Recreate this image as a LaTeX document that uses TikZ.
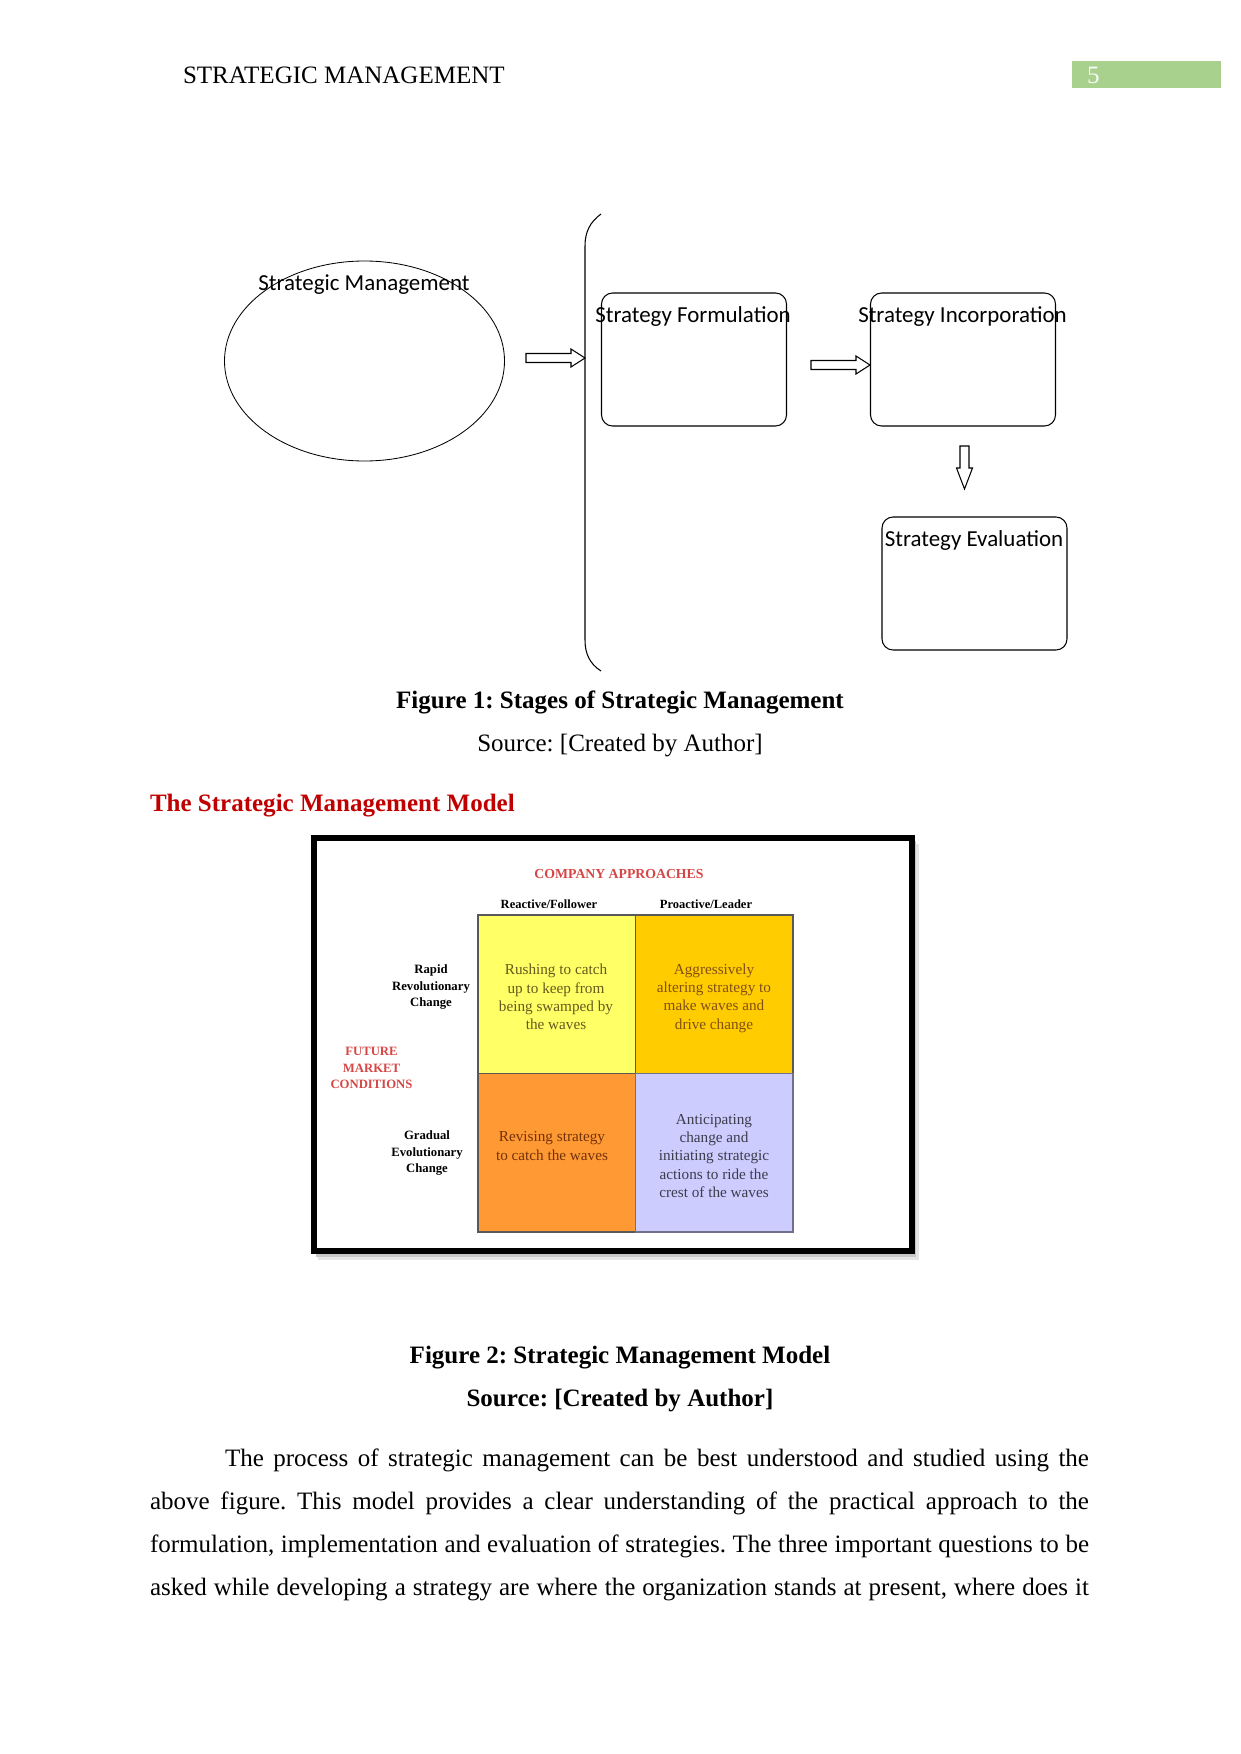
\documentclass[tikz,border=0pt]{standalone}
\usepackage{fontspec}
\usetikzlibrary{shapes.geometric}
\setmainfont{Liberation Serif}
\newfontfamily\carl{Carlito}
\frenchspacing
\definecolor{hdrgreen}{RGB}{169,209,142}
\definecolor{headred}{RGB}{192,0,0}
\definecolor{lblred}{RGB}{215,70,70}
\definecolor{cellyel}{RGB}{255,255,102}
\definecolor{cellgold}{RGB}{255,204,0}
\definecolor{cellorg}{RGB}{255,153,51}
\definecolor{celllav}{RGB}{204,204,255}
\definecolor{txtyel}{RGB}{105,88,30}
\definecolor{txtgold}{RGB}{130,80,20}
\definecolor{txtorg}{RGB}{115,50,10}
\definecolor{txtlav}{RGB}{60,60,75}
\begin{document}
\frenchspacing
\begin{tikzpicture}[x=0.4797pt,y=-0.4797pt,
  every node/.style={inner sep=0pt, outer sep=0pt},
  bodytxt/.style={font=\fontsize{12}{14}\selectfont, anchor=base},
  diagtxt/.style={font=\carl\fontsize{11}{13}\selectfont, anchor=base},
  stagebox/.style={draw, line width=0.5pt, rounded corners=5.3pt, minimum width=185*0.4797pt, minimum height=133*0.4797pt},
  blockarrow/.style={draw, line width=0.5pt, fill=white},
  cell/.style={draw=black!65, line width=0.6pt, minimum width=157.5*0.4797pt, minimum height=158.5*0.4797pt},
  celltxt/.style={align=center, font=\fontsize{7.3}{8.8}\selectfont},
  sidelbl/.style={align=center, font=\bfseries\fontsize{6.1}{7.8}\selectfont},
  paraline/.style={font=\fontsize{12}{14}\selectfont, anchor=base west}
]
\useasboundingbox (0,0) rectangle (1241,1754);

% ---------- header ----------
\node[bodytxt, anchor=base west] (hdr) at (183,84) {STRATEGIC MANAGEMENT};
\fill[hdrgreen] (1072,61) rectangle (1221,88);
\node[bodytxt, anchor=base west, text=white!92!hdrgreen] (pg) at (1087,84) {5};

% ---------- figure 1 ----------
\node[draw, ellipse, line width=0.4pt, minimum width=280*0.4797pt, minimum height=200*0.4797pt] (sm) at (364.5,361) {};
\node[diagtxt] (smt) at (364,290) {Strategic Management};

% bracket
\draw[line width=0.5pt] (601,214) .. controls (590,222) and (585,232) .. (585,246)
  -- (585,640) .. controls (585,654) and (590,664) .. (601,671);
\coordinate (brk) at (585,358);

% arrow 1
\draw[blockarrow] (526,353.5) -- (571,353.5) -- (571,349) -- (585,358) -- (571,367) -- (571,362.5) -- (526,362.5) -- cycle;

\node[stagebox] (form) at (694,359.5) {};
\node[diagtxt] (formt) at (693,322) {Strategy Formulation};

% arrow 2
\draw[blockarrow] (811,360.5) -- (856,360.5) -- (856,356) -- (870,365) -- (856,374) -- (856,369.5) -- (811,369.5) -- cycle;

\node[stagebox] (inc) at (963,359.5) {};
\node[diagtxt] (inct) at (962.5,322) {Strategy Incorporation};

% down arrow
\draw[blockarrow] (960,446) -- (969,446) -- (969,468) -- (972.5,468) -- (964.5,489) -- (956.5,468) -- (960,468) -- cycle;

\node[stagebox] (eval) at (974.5,583.5) {};
\node[diagtxt] (evalt) at (974,546) {Strategy Evaluation};

\node[bodytxt, font=\bfseries\fontsize{12}{14}\selectfont] (cap1) at (620,708.5) {Figure 1: Stages of Strategic Management};
\node[bodytxt] (src1) at (620,751.5) {Source: [Created by Author]};
\node[bodytxt, anchor=base west, text=headred, font=\bfseries\fontsize{12}{14}\selectfont] (head) at (150,811.5) {The Strategic Management Model};

% ---------- figure 2 (image) ----------
\fill[black!10] (318,844) rectangle (919,1260);
\fill[black!22] (316,841) rectangle (916,1257);
\draw[line width=6.5*0.4797pt, fill=white] (314,838) rectangle (912,1251);

\node[font=\bfseries\fontsize{6.6}{8}\selectfont, text=lblred, anchor=base] (ca) at (619,878) {COMPANY APPROACHES};
\node[font=\bfseries\fontsize{6}{7}\selectfont, anchor=base] (rf) at (549,908) {Reactive/Follower};
\node[font=\bfseries\fontsize{6}{7}\selectfont, anchor=base] (pl) at (706,908) {Proactive/Leader};

\node[cell, fill=cellyel]  (c11) at (556.75,994.25) {};
\node[cell, fill=cellgold] (c12) at (714.25,994.25) {};
\node[cell, fill=cellorg]  (c21) at (556.75,1152.75) {};
\node[cell, fill=celllav, draw=black!45!celllav] (c22) at (714.25,1152.75) {};

\node[celltxt, text=txtyel]  (t11) at (556,997) {Rushing to catch\\up to keep from\\being swamped by\\the waves};
\node[celltxt, text=txtgold] (t12) at (714,998) {Aggressively\\altering strategy to\\make waves and\\drive change};
\node[celltxt, text=txtorg]  (t21) at (552,1146) {Revising strategy\\to catch the waves};
\node[celltxt, text=txtlav]  (t22) at (714,1156) {Anticipating\\change and\\initiating strategic\\actions to ride the\\crest of the waves};

\node[sidelbl] (rrc) at (431,987) {Rapid\\Revolutionary\\Change};
\node[sidelbl, text=lblred] (fmc) at (371.5,1068) {FUTURE\\MARKET\\CONDITIONS};
\node[sidelbl] (gec) at (427,1153) {Gradual\\Evolutionary\\Change};

\node[bodytxt, font=\bfseries\fontsize{12}{14}\selectfont] (cap2) at (620,1363.5) {Figure 2: Strategic Management Model};
\node[bodytxt, font=\bfseries\fontsize{12}{14}\selectfont] (src2) at (620,1406.5) {Source: [Created by Author]};

% ---------- paragraph ----------
\node[paraline] (p1) at (225,1466.5) {\makebox[414.46pt][s]{The process of strategic management can be best understood and studied using the}};
\node[paraline] (p2) at (150,1509.5) {\makebox[450.44pt][s]{above figure. This model provides a clear understanding of the practical approach to the}};
\node[paraline] (p3) at (150,1552.5) {\makebox[450.44pt][s]{formulation, implementation and evaluation of strategies. The three important questions to be}};
\node[paraline] (p4) at (150,1595.5) {\makebox[450.44pt][s]{asked while developing a strategy are where the organization stands at present, where does it}};
\end{tikzpicture}
\end{document}
